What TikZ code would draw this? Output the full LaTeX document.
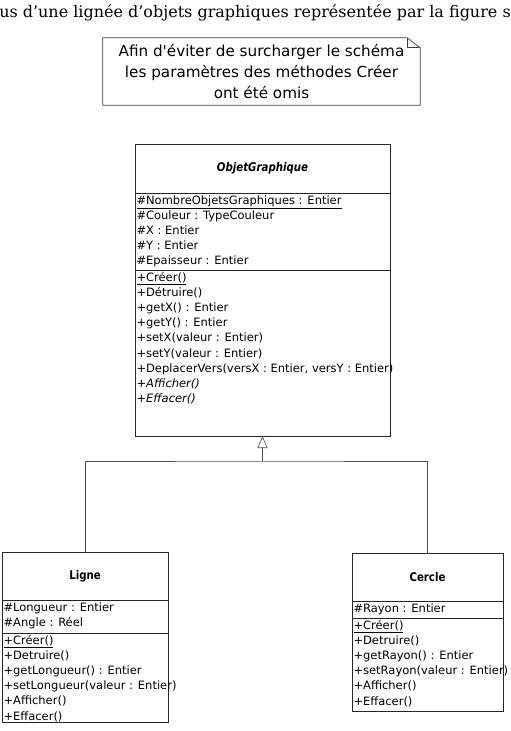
\documentclass[tikz,border=0pt]{standalone}
\usepackage{fontspec}
\setmainfont{DejaVu Sans}
\newfontfamily\textserif{DejaVu Serif}
\newfontfamily\notefont[Ligatures=TeXOff]{DejaVu Sans}
\newfontfamily\titlefont[FakeStretch=0.85]{DejaVu Sans}
\usetikzlibrary{arrows.meta, calc, positioning}
\tikzset{%
    cls/.style={draw=black!85, line width=0.8pt, outer sep=0pt, inner sep=0pt, font=\titlefont\fontsize{12}{14}\selectfont\bfseries},
    comp/.style={draw=black!85, line width=0.8pt, outer sep=0pt, inner xsep=1.5pt, inner ysep=0.5pt, font=\fontsize{11.5}{15.2}\selectfont},
    lien/.style={line width=0.6pt, draw=black!70},
    herit/.style={line width=0.6pt, draw=black!70, -{Triangle[open, width=10pt, length=12pt]}},
    notetxt/.style={align=center, inner sep=0pt, minimum width=317, minimum height=67, font=\notefont\fontsize{15.2}{21}\selectfont},
    notebord/.style={line width=0.7pt, draw=black!75},
}
\newcommand{\umlcomp}[3]{\parbox[t][#1][t]{#2}{\begin{tabular}[t]{@{}l@{}}#3\end{tabular}}}

\begin{document}
\begin{tikzpicture}[x=1pt, y=-1pt]
    \clip (0,0) rectangle (511,731);
    \node[font=\textserif\fontsize{16}{19}\selectfont, anchor=base] (phrase) at (255,17) {us d’une lignée d’objets graphiques représentée par la figure s};
    % note
    \node[notetxt] (note) at (261.5,71.5) {Afin d'éviter de surcharger le schéma\\les paramètres des méthodes Créer\\ont été omis};
    \draw[notebord] (note.south west) -- (note.north west) -- ([xshift=-13pt]note.north east) -- ([yshift=-10pt]note.north east) -- (note.south east) -- cycle;
    \draw[notebord] ([xshift=-13pt]note.north east) |- ([yshift=-10pt]note.north east);
    % ObjetGraphique
    \node[cls, minimum width=255, minimum height=49] (og) at (262.5,168.5) {\textit{ObjetGraphique}};
    \node[comp, below=0pt of og] (ogattr) {\umlcomp{76pt}{252pt}{\underline{\#NombreObjetsGraphiques : Entier}\\ \#Couleur : TypeCouleur\\ \#X : Entier\\ \#Y : Entier\\ \#Epaisseur : Entier}};
    \node[comp, below=0pt of ogattr] (ogmeth) {\umlcomp{165pt}{252pt}{\underline{+Créer()}\\ +Détruire()\\ +getX() : Entier\\ +getY() : Entier\\ +setX(valeur : Entier)\\ +setY(valeur : Entier)\\ +DeplacerVers(versX : Entier, versY : Entier)\\ \textit{+Afficher()}\\ \textit{+Effacer()}}};
    % Ligne
    \node[cls, minimum width=166, minimum height=48] (lg) at (85,576) {Ligne};
    \node[comp, below=0pt of lg] (lgattr) {\umlcomp{32pt}{163pt}{\#Longueur : Entier\\ \#Angle : Réel}};
    \node[comp, below=0pt of lgattr] (lgmeth) {\umlcomp{88pt}{163pt}{\underline{+Créer()}\\ +Detruire()\\ +getLongueur() : Entier\\ +setLongueur(valeur : Entier)\\ +Afficher()\\ +Effacer()}};
    % Cercle
    \node[cls, minimum width=151, minimum height=48] (cc) at (427.5,577) {Cercle};
    \node[comp, below=0pt of cc] (ccattr) {\umlcomp{16pt}{148pt}{\#Rayon : Entier}};
    \node[comp, below=0pt of ccattr] (ccmeth) {\umlcomp{92pt}{148pt}{\underline{+Créer()}\\ +Detruire()\\ +getRayon() : Entier\\ +setRayon(valeur : Entier)\\ +Afficher()\\ +Effacer()}};
    % heritage
    \coordinate (split) at (262.5,461);
    \draw[lien] (lg.north) |- (split) -| (cc.north);
    \draw[herit] (split) -- (ogmeth.south);
\end{tikzpicture}
\end{document}
